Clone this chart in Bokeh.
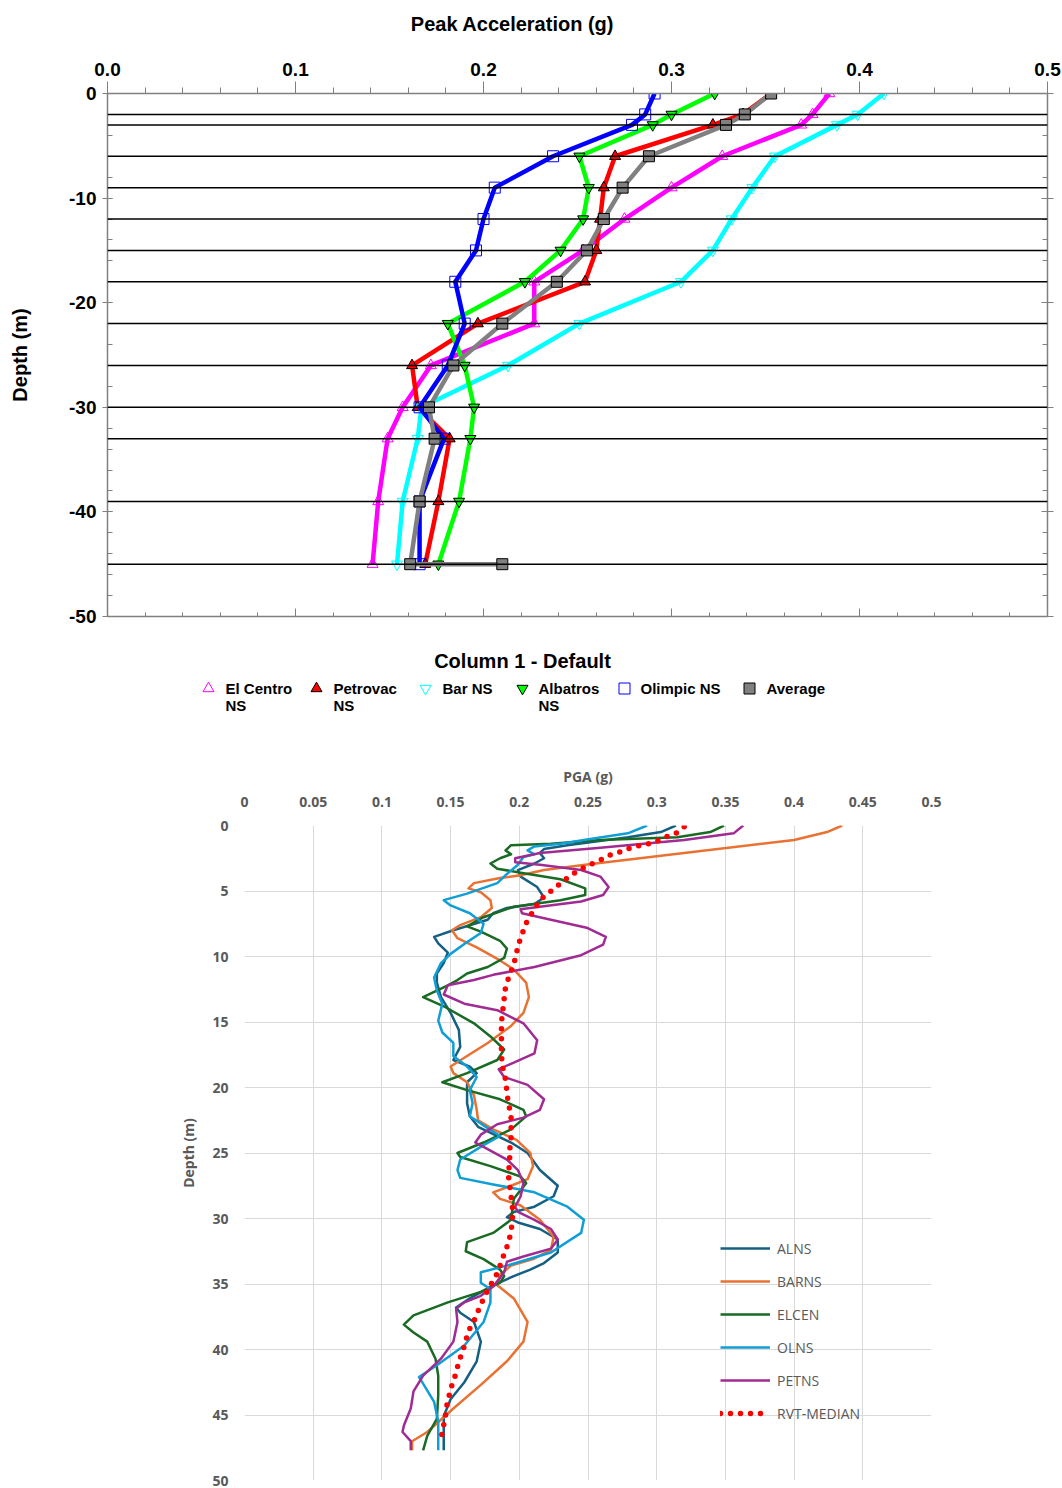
from bokeh.plotting import figure
from bokeh.models import (Range1d, LinearAxis, SingleIntervalTicker, FixedTicker,
                          PrintfTickFormatter, CustomJSTickFormatter, Span, Legend, LegendItem)
from bokeh.embed import file_html
from bokeh.resources import INLINE
from bokeh.core.properties import value

# ---------------- Top chart data (Column 1 - Default) ----------------
depth_top = [0, -2, -3, -6, -9, -12, -15, -18, -22, -26, -30, -33, -39, -45]
el_centro = [0.384, 0.375, 0.369, 0.327, 0.300, 0.275, 0.253, 0.227, 0.227, 0.172, 0.157, 0.149, 0.144, 0.141]
petrovac = [0.353, 0.338, 0.322, 0.270, 0.264, 0.262, 0.260, 0.254, 0.197, 0.162, 0.165, 0.182, 0.176, 0.169]
bar_ns = [0.413, 0.399, 0.388, 0.355, 0.343, 0.332, 0.322, 0.305, 0.251, 0.213, 0.167, 0.165, 0.157, 0.154]
albatros = [0.323, 0.300, 0.290, 0.251, 0.256, 0.253, 0.241, 0.222, 0.181, 0.190, 0.195, 0.193, 0.187, 0.176]
olimpic = [0.291, 0.286, 0.279, 0.237, 0.206, 0.200, 0.196, 0.185, 0.190, 0.181, 0.166, 0.179, 0.166, 0.166]
average_depth = [0, -2, -3, -6, -9, -12, -15, -18, -22, -26, -30, -33, -39, -45, -45]
average = [0.353, 0.339, 0.329, 0.288, 0.274, 0.264, 0.255, 0.239, 0.210, 0.184, 0.171, 0.174, 0.166, 0.161, 0.210]
layer_depths = [-2, -3, -6, -9, -12, -15, -18, -22, -26, -30, -33, -39, -45]
top_labels = ["El Centro\nNS", "Petrovac\nNS", "Bar NS", "Albatros\nNS", "Olimpic NS", "Average"]

# ---------------- Bottom chart data (PGA profiles) ----------------
alns_d = [0, 0.5, 0.9, 1.5, 1.8, 2.1, 2.5, 2.9, 3.4, 3.9, 4.7, 5.5, 6.0, 6.3, 6.7, 7.2, 8.0, 8.5, 9.0, 9.7,
          10.5, 11.3, 12.0, 13.1, 14.3, 15.6, 16.9, 17.9, 18.4, 18.9, 19.6, 20.2, 21.2, 22.2, 23.0, 24.2,
          25.0, 26.3, 27.5, 28.3, 29.1, 29.5, 29.9, 30.3, 30.8, 31.6, 32.6, 33.4, 33.9, 34.4, 35.1, 36.1,
          36.8, 37.2, 37.9, 39.4, 40.9, 42.5, 43.8, 45.1, 46.6, 47.7]
alns_v = [0.314, 0.303, 0.279, 0.235, 0.218, 0.215, 0.218, 0.211, 0.199, 0.201, 0.213, 0.218, 0.211, 0.191,
          0.181, 0.177, 0.152, 0.138, 0.141, 0.148, 0.145, 0.140, 0.140, 0.143, 0.150, 0.156, 0.157, 0.152,
          0.164, 0.169, 0.162, 0.162, 0.162, 0.164, 0.170, 0.194, 0.206, 0.215, 0.228, 0.225, 0.211, 0.196,
          0.191, 0.199, 0.215, 0.228, 0.228, 0.218, 0.208, 0.196, 0.181, 0.164, 0.154, 0.157, 0.167, 0.172,
          0.169, 0.160, 0.150, 0.145, 0.145, 0.145]
barns_d = [0, 0.5, 1.1, 3.0, 3.4, 3.8, 4.0, 4.4, 4.8, 5.1, 5.7, 6.3, 7.0, 7.6, 8.0, 8.6, 9.3, 10.3, 11.0,
           12.0, 13.1, 14.3, 15.3, 16.6, 17.6, 18.4, 18.9, 19.6, 20.6, 21.7, 22.5, 23.2, 24.0, 25.0, 26.0,
           27.0, 27.5, 28.0, 28.5, 29.0, 30.1, 31.4, 32.4, 33.1, 33.6, 34.3, 35.1, 36.1, 37.9, 39.4, 40.9,
           42.7, 44.5, 46.3, 47.0, 47.7]
barns_v = [0.435, 0.424, 0.400, 0.248, 0.218, 0.201, 0.186, 0.167, 0.163, 0.172, 0.179, 0.180, 0.172, 0.157,
           0.151, 0.155, 0.169, 0.186, 0.196, 0.205, 0.207, 0.203, 0.194, 0.177, 0.162, 0.150, 0.152, 0.162,
           0.167, 0.169, 0.170, 0.181, 0.198, 0.208, 0.210, 0.206, 0.194, 0.181, 0.186, 0.201, 0.215, 0.225,
           0.223, 0.210, 0.194, 0.186, 0.184, 0.196, 0.206, 0.203, 0.191, 0.172, 0.152, 0.133, 0.122, 0.122]
elcen_d = [0, 0.5, 0.9, 1.1, 1.4, 1.5, 1.9, 2.2, 2.5, 2.9, 3.3, 3.6, 4.1, 4.8, 5.3, 5.7, 6.2, 7.0, 7.7, 8.1,
           8.8, 9.4, 10.1, 10.8, 11.3, 11.8, 12.2, 13.1, 13.8, 15.1, 16.1, 17.1, 17.9, 18.9, 19.6, 20.2, 20.9,
           21.7, 22.2, 23.2, 24.2, 25.0, 25.3, 26.0, 26.8, 27.3, 28.5, 30.1, 31.1, 31.8, 32.5, 33.1, 33.9,
           34.4, 34.9, 35.6, 36.4, 37.4, 38.1, 38.7, 39.4, 40.7, 42.0, 43.5, 45.3, 46.6, 47.7]
elcen_v = [0.349, 0.339, 0.315, 0.259, 0.223, 0.194, 0.190, 0.194, 0.186, 0.179, 0.184, 0.201, 0.230, 0.248,
           0.248, 0.230, 0.196, 0.174, 0.162, 0.172, 0.186, 0.191, 0.189, 0.177, 0.162, 0.155, 0.148, 0.130,
           0.145, 0.167, 0.179, 0.189, 0.184, 0.162, 0.144, 0.162, 0.186, 0.203, 0.205, 0.194, 0.174, 0.155,
           0.157, 0.179, 0.201, 0.205, 0.196, 0.194, 0.181, 0.162, 0.161, 0.174, 0.186, 0.189, 0.186, 0.172,
           0.148, 0.123, 0.116, 0.123, 0.133, 0.139, 0.141, 0.141, 0.140, 0.133, 0.130]
olns_d = [0, 0.6, 1.0, 1.4, 1.6, 1.9, 2.2, 2.4, 3.0, 3.7, 4.4, 5.2, 5.7, 6.1, 6.7, 7.5, 8.2, 8.9, 9.8, 10.5,
          11.6, 12.6, 13.6, 14.9, 15.8, 16.6, 17.6, 18.4, 19.2, 20.2, 21.2, 22.2, 23.1, 23.7, 24.4, 25.5,
          26.3, 26.9, 27.4, 28.0, 29.1, 30.1, 31.1, 32.6, 33.6, 34.1, 34.9, 35.4, 36.4, 37.9, 39.7, 41.2,
          42.1, 42.6, 44.0, 45.5, 47.7]
olns_v = [0.293, 0.279, 0.254, 0.230, 0.211, 0.206, 0.211, 0.203, 0.199, 0.191, 0.184, 0.162, 0.145, 0.150,
          0.164, 0.174, 0.172, 0.162, 0.150, 0.143, 0.138, 0.140, 0.144, 0.141, 0.144, 0.152, 0.152, 0.162,
          0.169, 0.164, 0.166, 0.164, 0.177, 0.186, 0.174, 0.157, 0.155, 0.157, 0.181, 0.211, 0.235, 0.247,
          0.245, 0.223, 0.191, 0.172, 0.172, 0.179, 0.179, 0.174, 0.160, 0.140, 0.127, 0.130, 0.138, 0.141,
          0.141]
petns_d = [0, 0.6, 1.1, 1.7, 2.1, 2.5, 2.8, 3.0, 3.4, 3.9, 4.7, 5.3, 5.8, 6.2, 6.4, 6.7, 7.2, 7.8, 8.5, 9.1,
           9.9, 10.8, 11.4, 11.8, 12.2, 12.9, 13.6, 14.1, 15.1, 16.4, 17.4, 18.1, 18.6, 19.2, 19.8, 20.9,
           21.7, 22.3, 22.8, 23.6, 24.2, 24.7, 25.5, 26.3, 27.3, 28.3, 29.1, 29.5, 30.1, 30.8, 31.6, 32.3,
           32.9, 33.3, 34.1, 35.2, 35.9, 36.4, 36.9, 37.9, 39.4, 40.7, 42.0, 43.2, 44.5, 45.8, 46.3, 47.0, 47.7]
petns_v = [0.363, 0.356, 0.320, 0.259, 0.215, 0.197, 0.197, 0.215, 0.245, 0.259, 0.265, 0.261, 0.245, 0.215,
           0.201, 0.202, 0.223, 0.249, 0.263, 0.261, 0.245, 0.211, 0.181, 0.167, 0.148, 0.145, 0.160, 0.184,
           0.203, 0.213, 0.211, 0.196, 0.185, 0.189, 0.206, 0.218, 0.215, 0.203, 0.184, 0.172, 0.168, 0.177,
           0.191, 0.199, 0.203, 0.201, 0.197, 0.199, 0.211, 0.223, 0.228, 0.223, 0.203, 0.191, 0.189, 0.181,
           0.172, 0.160, 0.154, 0.155, 0.152, 0.143, 0.130, 0.123, 0.121, 0.116, 0.115, 0.121, 0.121]
rvt_d = [0.1, 0.6, 0.9, 1.3, 1.5, 1.7, 2.0, 2.3, 2.7, 3.0, 3.5, 4.0, 4.5, 5.1, 5.7, 6.4, 7.2, 8.0, 8.9, 9.7,
         10.6, 11.4, 12.3, 13.2, 14.1, 15.0, 15.8, 16.7, 17.6, 18.5, 19.4, 20.3, 21.2, 22.1, 23.0, 23.8, 24.8,
         25.7, 26.6, 27.5, 28.3, 29.2, 30.1, 31.0, 31.9, 32.7, 33.6, 34.4, 35.1, 35.9, 36.8, 37.6, 38.4, 39.3,
         40.1, 40.9, 41.8, 42.7, 43.5, 44.4, 45.3, 46.2, 47.0]
rvt_v = [0.320, 0.314, 0.306, 0.298, 0.289, 0.281, 0.274, 0.265, 0.258, 0.251, 0.242, 0.235, 0.229, 0.222,
         0.215, 0.211, 0.206, 0.203, 0.200, 0.198, 0.196, 0.193, 0.190, 0.189, 0.188, 0.187, 0.187, 0.187,
         0.187, 0.188, 0.190, 0.191, 0.192, 0.194, 0.194, 0.194, 0.193, 0.193, 0.192, 0.193, 0.194, 0.195,
         0.195, 0.194, 0.192, 0.189, 0.186, 0.183, 0.179, 0.175, 0.171, 0.168, 0.164, 0.161, 0.159, 0.156,
         0.154, 0.151, 0.149, 0.147, 0.146, 0.144, 0.143]
bottom_labels = ["ALNS", "BARNS", "ELCEN", "OLNS", "PETNS", "RVT-MEDIAN"]
bottom_x_ticks = [0, 0.05, 0.1, 0.15, 0.2, 0.25, 0.3, 0.35, 0.4, 0.45, 0.5]
bottom_y_ticks = [0, 5, 10, 15, 20, 25, 30, 35, 40, 45, 50]

# ---------------- Styles ----------------
TOPFONT = "Liberation Sans"
top_styles = [
    dict(color="#ff00ff", marker="triangle", fill=None, outline="#ff00ff"),
    dict(color="#ff0000", marker="triangle", fill="#ff0000", outline="#000000"),
    dict(color="#00ffff", marker="inverted_triangle", fill=None, outline="#00ffff"),
    dict(color="#00ff00", marker="inverted_triangle", fill="#00ff00", outline="#000000"),
    dict(color="#0000ff", marker="square", fill=None, outline="#0000ff"),
    dict(color="#808080", marker="square", fill="#808080", outline="#000000"),
]


def strip(height):
    f = figure(width=1062, height=height, x_range=Range1d(0, 1062), y_range=Range1d(height, 0),
               x_axis_type=None, y_axis_type=None, output_backend="svg", toolbar_location=None,
               min_border=0)
    f.outline_line_color = None
    f.xgrid.visible = False
    f.ygrid.visible = False
    return f


# ---------------- Title strip ----------------
pt = strip(50)
pt.text(x=[512], y=[23], text=["Peak Acceleration (g)"], text_align="center", text_baseline="middle",
        text_font=value(TOPFONT), text_font_style="bold", text_font_size="20px", text_color="#000000")

# ---------------- Top figure ----------------
p1 = figure(width=1062, height=590, x_range=Range1d(0, 0.5), y_range=Range1d(-50, 0),
            x_axis_location="above", output_backend="svg", toolbar_location=None,
            min_border_left=107, min_border_right=15, min_border_top=43, min_border_bottom=24)
p1.outline_line_color = None
p1.xgrid.visible = False
p1.ygrid.visible = False


def style_top_axis(ax):
    ax.axis_line_color = "#808080"
    ax.axis_line_width = 1.5
    ax.major_tick_line_color = "#808080"
    ax.minor_tick_line_color = "#808080"
    ax.major_label_text_font = TOPFONT
    ax.major_label_text_font_style = "bold"
    ax.major_label_text_font_size = "19px"
    ax.major_label_text_color = "#000000"
    ax.axis_label_text_font = TOPFONT
    ax.axis_label_text_font_style = "bold"
    ax.axis_label_text_font_size = "20px"
    ax.axis_label_text_color = "#000000"


xa = p1.xaxis[0]
xa.ticker = SingleIntervalTicker(interval=0.1, num_minor_ticks=5)
xa.formatter = PrintfTickFormatter(format="%.1f")
style_top_axis(xa)
xa.major_tick_out = 12
xa.major_tick_in = 0
xa.minor_tick_out = 6
xa.minor_tick_in = 0
xa.major_label_standoff = 6

ya = p1.yaxis[0]
ya.ticker = SingleIntervalTicker(interval=10, num_minor_ticks=5)
ya.formatter = PrintfTickFormatter(format="%d")
ya.axis_label = "Depth (m)"
style_top_axis(ya)
ya.major_tick_out = 5
ya.major_tick_in = 5
ya.minor_tick_out = 0
ya.minor_tick_in = 5
ya.major_label_standoff = 6
ya.axis_label_standoff = 35

blank = CustomJSTickFormatter(code="return ''")
ra = LinearAxis(ticker=SingleIntervalTicker(interval=10, num_minor_ticks=5), formatter=blank)
style_top_axis(ra)
ra.major_tick_out = 6
ra.major_tick_in = 6
ra.minor_tick_out = 0
ra.minor_tick_in = 5
ra.major_label_standoff = 0
p1.add_layout(ra, "right")

ba = LinearAxis(ticker=SingleIntervalTicker(interval=0.1, num_minor_ticks=5), formatter=blank)
style_top_axis(ba)
ba.major_tick_out = 0
ba.major_tick_in = 8
ba.minor_tick_out = 0
ba.minor_tick_in = 4
ba.major_label_standoff = 0
p1.add_layout(ba, "below")

for d in layer_depths:
    p1.add_layout(Span(location=d, dimension="width", line_color="#000000", line_width=1.5))

top_series = [(el_centro, depth_top), (petrovac, depth_top), (bar_ns, depth_top),
              (albatros, depth_top), (olimpic, depth_top), (average, average_depth)]
for (xs, ys), st in zip(top_series, top_styles):
    p1.line(xs, ys, line_color=st["color"], line_width=4.5, line_join="round")
    p1.scatter(xs, ys, marker=st["marker"], size=11, fill_color=st["fill"],
               line_color=st["outline"], line_width=1)

# ---------------- Legend strip for top chart ----------------
pl = strip(100)
pl.text(x=[522], y=[20], text=["Column 1 - Default"], text_align="center", text_baseline="middle",
        text_font=value(TOPFONT), text_font_style="bold", text_font_size="20px", text_color="#000000")
leg_marker_x = [208, 316, 425, 522, 624, 749]
leg_text_x = [225, 333, 442, 538, 640, 766]
for mx, tx, lab, st in zip(leg_marker_x, leg_text_x, top_labels, top_styles):
    pl.scatter([mx], [48], marker=st["marker"], size=11, fill_color=st["fill"],
               line_color=st["outline"], line_width=1)
    for k, line in enumerate(lab.split("\n")):
        pl.text(x=[tx], y=[48 + 17 * k], text=[line], text_align="left", text_baseline="middle",
                text_font=value(TOPFONT), text_font_style="bold", text_font_size="15px",
                text_color="#000000")

# ---------------- Bottom figure ----------------
GRAY = "#595959"
BFONT = "Open Sans"
p2 = figure(width=1062, height=748, x_range=Range1d(0, 0.5), y_range=Range1d(50, 0),
            x_axis_location="above", output_backend="svg", toolbar_location=None,
            min_border_left=244, min_border_right=131, min_border_top=85, min_border_bottom=8)
p2.outline_line_color = None
p2.xgrid.ticker = FixedTicker(ticks=bottom_x_ticks)
p2.ygrid.ticker = FixedTicker(ticks=bottom_y_ticks)
for g in (p2.xgrid[0], p2.ygrid[0]):
    g.grid_line_color = "#d9d9d9"
    g.grid_line_width = 1

for ax in (p2.xaxis[0], p2.yaxis[0]):
    ax.axis_line_color = None
    ax.major_tick_line_color = None
    ax.minor_tick_line_color = None
    ax.major_tick_out = 0
    ax.major_tick_in = 0
    ax.major_label_text_font = BFONT
    ax.major_label_text_font_style = "bold"
    ax.major_label_text_font_size = "14px"
    ax.major_label_text_color = GRAY
    ax.axis_label_text_font = BFONT
    ax.axis_label_text_font_style = "bold"
    ax.axis_label_text_font_size = "14px"
    ax.axis_label_text_color = GRAY

bx = p2.xaxis[0]
bx.ticker = FixedTicker(ticks=bottom_x_ticks)
bx.formatter = CustomJSTickFormatter(code=r"return tick.toFixed(2).replace(/\.?0+$/, '')")
bx.axis_label = "PGA (g)"
bx.major_label_standoff = 19
bx.axis_label_standoff = 8

by = p2.yaxis[0]
by.ticker = FixedTicker(ticks=bottom_y_ticks)
by.axis_label = "Depth (m)"
by.major_label_standoff = 16
by.axis_label_standoff = 11

bottom_series = [(alns_v, alns_d, "#156082"), (barns_v, barns_d, "#E97132"),
                 (elcen_v, elcen_d, "#196B24"), (olns_v, olns_d, "#0F9ED5"),
                 (petns_v, petns_d, "#A02B93")]
renderers = []
for xs, ys, c in bottom_series:
    renderers.append(p2.line(xs, ys, line_color=c, line_width=2.5, line_join="round"))
renderers.append(p2.line(rvt_v, rvt_d, line_color="#ff0000", line_width=5.5, line_dash="0 10",
                         line_cap="round"))

legend = Legend(items=[LegendItem(label=l, renderers=[r]) for l, r in zip(bottom_labels, renderers)],
                location=(476, 57), glyph_width=50, glyph_height=20, label_height=20, spacing=13,
                padding=0, margin=0, label_standoff=7, border_line_color=None,
                background_fill_alpha=0, label_text_font=BFONT, label_text_font_size="14px",
                label_text_color=GRAY)
p2.add_layout(legend)

open("out.html", "w").write(file_html([pt, p1, pl, p2], INLINE))
